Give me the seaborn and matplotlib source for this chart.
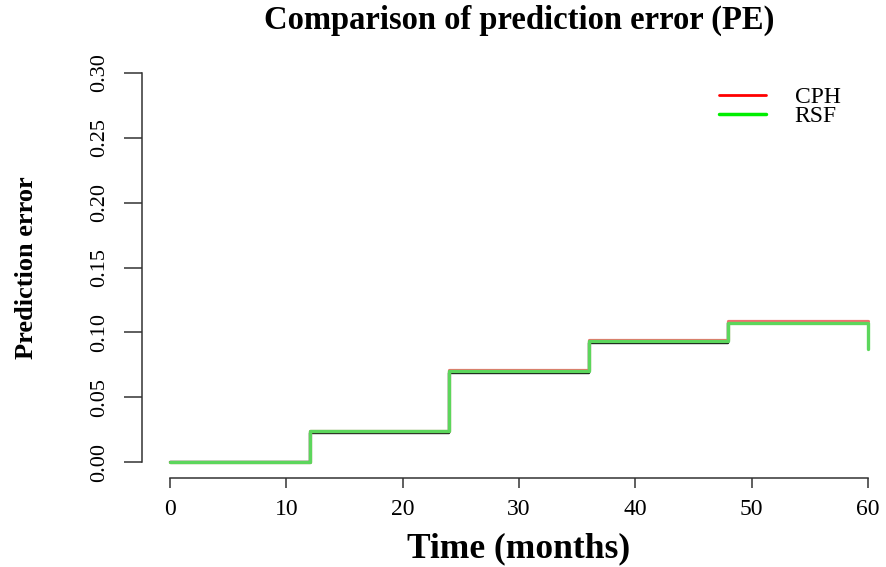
import numpy as np
import pandas as pd
import matplotlib
matplotlib.use("Agg")
import matplotlib.pyplot as plt
from matplotlib.lines import Line2D
import seaborn as sns

# Evaluation times (months)
months = [0, 12, 24, 36, 48, 60]

# Prediction error curves
pe_reference = [0.0, 0.0227, 0.0686, 0.0918, 0.1072, 0.1072]
pe_cph = [0.0, 0.0240, 0.0713, 0.0945, 0.1087, 0.1087]
pe_rsf = [0.0, 0.0239, 0.0706, 0.0937, 0.1076, 0.0871]

x_ticks = [0, 10, 20, 30, 40, 50, 60]
y_ticks = [0.00, 0.05, 0.10, 0.15, 0.20, 0.25, 0.30]
y_tick_labels = ["0.00", "0.05", "0.10", "0.15", "0.20", "0.25", "0.30"]

df = pd.concat([
    pd.DataFrame({"time": months, "pe": pe_reference, "model": "Reference"}),
    pd.DataFrame({"time": months, "pe": pe_cph, "model": "CPH"}),
    pd.DataFrame({"time": months, "pe": pe_rsf, "model": "RSF"}),
], ignore_index=True)

sns.set_style("white")
plt.rcParams["font.family"] = ["Liberation Serif", "DejaVu Serif"]
plt.rcParams["text.color"] = "black"
plt.rcParams["axes.labelcolor"] = "black"
plt.rcParams["xtick.color"] = "black"
plt.rcParams["ytick.color"] = "black"

fig = plt.figure(figsize=(8.86, 5.67), dpi=100)
ax = fig.add_axes([142 / 886, (567 - 478) / 567, 754 / 886, (478 - 57) / 567])

styles = {
    "Reference": dict(color="#111111", lw=1.7, alpha=1.0),
    "CPH": dict(color="#f07070", lw=2.3, alpha=1.0),
    "RSF": dict(color="#5cd65c", lw=2.4, alpha=1.0),
}
for name in ["Reference", "CPH", "RSF"]:
    sub = df[df["model"] == name]
    sns.lineplot(data=sub, x="time", y="pe", ax=ax, drawstyle="steps-post",
                 estimator=None, sort=False, legend=False,
                 color=styles[name]["color"], linewidth=styles[name]["lw"],
                 alpha=styles[name]["alpha"], clip_on=False)

ax.set_xlim(-2.4, 62.4)
ax.set_ylim(-0.012, 0.312)

for side in ["top", "right"]:
    ax.spines[side].set_visible(False)
for side in ["left", "bottom"]:
    ax.spines[side].set_color("#333333")
    ax.spines[side].set_linewidth(1.1)
ax.spines["left"].set_bounds(0, 0.30)
ax.spines["bottom"].set_bounds(0, 60)

ax.set_xticks(x_ticks)
ax.set_xticklabels([str(v) for v in x_ticks], fontsize=17)
ax.set_yticks(y_ticks)
ax.set_yticklabels(y_tick_labels, fontsize=16, rotation=90, va="center")
ax.tick_params(axis="x", direction="out", length=7, width=1.1, color="#333333", pad=8, bottom=True)
ax.tick_params(axis="y", direction="out", length=13, width=1.1, color="#333333", pad=11, left=True)

ax.set_xlabel("Time (months)", fontsize=25.5, fontweight="bold", labelpad=9)
ax.set_ylabel("Prediction error", fontsize=19, fontweight="bold", labelpad=37)
fig.text((142 + 754 / 2) / 886, 1 - 20 / 567, "Comparison of prediction error (PE)",
         ha="center", va="center", fontsize=23.5, fontweight="bold")

handles = [Line2D([0], [0], color="#ff0000", lw=2),
           Line2D([0], [0], color="#00ee00", lw=2.5)]
ax.legend(handles, ["CPH", "RSF"], loc="upper left", bbox_to_anchor=(0.737, 0.98),
          frameon=False, fontsize=17, handlelength=2.0, handletextpad=1.2,
          labelspacing=-0.1)

fig.savefig("out.png", dpi=100)
